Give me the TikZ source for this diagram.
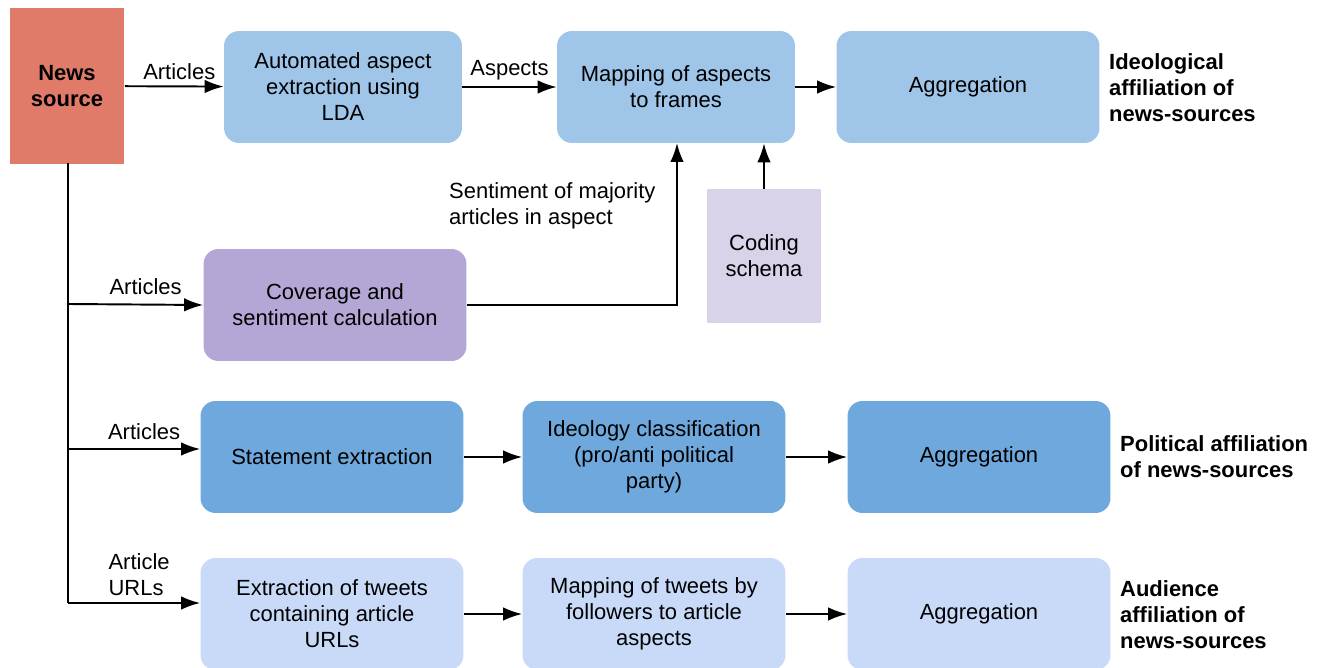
\documentclass[tikz,border=0pt]{standalone}
\usepackage{fontspec}
\setmainfont{Liberation Sans}
\usetikzlibrary{arrows.meta,positioning,calc}

\definecolor{srcred}{HTML}{E07B6A}
\definecolor{lightblue}{HTML}{9FC5E8}
\definecolor{midblue}{HTML}{6FA8DC}
\definecolor{paleblue}{HTML}{C9DAF8}
\definecolor{purple}{HTML}{B4A7D6}
\definecolor{lilac}{HTML}{D9D2E9}

\begin{document}
\begin{tikzpicture}[x=0.02cm, y=-0.02cm, font=\fontsize{12.5}{14.8}\selectfont,
    block/.style={rounded corners=0.3cm, align=center, minimum height=2.24cm, inner sep=2pt},
    wide/.style={block, minimum width=5.26cm},
    narrow/.style={block, minimum width=4.76cm},
    result/.style={font=\fontsize{12.5}{14.8}\selectfont\bfseries, align=left, anchor=west},
    arrow/.style={line width=1.1pt, -{Latex[length=0.38cm, width=0.27cm]}}]

        \useasboundingbox (0,0) rectangle (1322,668);

        % News source
        \node [fill=srcred, minimum width=2.3cm, minimum height=3.12cm, font=\fontsize{12.5}{14.8}\selectfont\bfseries, align=center] (source) at (67,86) {News\\source};

        % Ideological row
        \node [narrow, fill=lightblue] (aspect) at (343,87) {Automated aspect\\extraction using\\LDA};
        \node [narrow, fill=lightblue] (frames) at (676,87) {Mapping of aspects\\to frames};
        \node [wide, fill=lightblue] (aggr_ideo) at (968,87) {Aggregation};
        \node [result] (ideo) at (1103,88) {Ideological\\affiliation of\\news-sources};

        \node [fill=lilac, minimum width=2.28cm, minimum height=2.68cm, align=center] (schema) at (764,256) {Coding\\schema};
        \node [wide, fill=purple] (coverage) at (335,305) {Coverage and\\sentiment calculation};

        % Political row
        \node [wide, fill=midblue] (statement) at (332,457) {Statement extraction};
        \node [wide, fill=midblue] (ideology) at (654,457) {Ideology classification\\(pro/anti political\\party)};
        \node [wide, fill=midblue] (aggr_pol) at (979,457) {Aggregation};
        \node [result] (pol) at (1114,457) {Political affiliation\\of news-sources};

        % Audience row
        \node [wide, fill=paleblue] (tweets) at (332,614) {Extraction of tweets\\containing article\\URLs};
        \node [wide, fill=paleblue] (followers) at (654,614) {Mapping of tweets by\\followers to article\\aspects};
        \node [wide, fill=paleblue] (aggr_aud) at (979,614) {Aggregation};
        \node [result] (aud) at (1114,615) {Audience\\affiliation of\\news-sources};

        % Trunk
        \coordinate (trunk_top) at (68,163);
        \coordinate (trunk_cov) at (68,304);
        \coordinate (trunk_stmt) at (68,449);
        \coordinate (trunk_url) at (68,603);

        % Arrows
        \draw [arrow] (source) -- node[above, xshift=0.1cm] {Articles} (aspect);
        \draw [arrow] (aspect) -- node[above] {Aspects} (frames);
        \draw [arrow] (frames) -- (aggr_ideo);
        \draw [arrow] (schema) -- (schema |- frames.south);
        \draw [arrow] (coverage.east) -| (677,143);
        \node [align=left, anchor=north west] (sentiment) at (443,176) {Sentiment of majority\\articles in aspect};

        \draw [line width=1.1pt] (trunk_top) -- (trunk_url);
        \draw [arrow] (trunk_cov) -- node[above, xshift=0.2cm, yshift=0.05cm] {Articles} (coverage.west);
        \draw [arrow] (trunk_stmt) -- node[above, xshift=0.2cm, yshift=0.05cm] {Articles} (trunk_stmt -| statement.west);
        \draw [arrow] (trunk_url) -- node[above, align=left, xshift=0.1cm] {Article\\URLs} (trunk_url -| tweets.west);

        \draw [arrow] (statement) -- (ideology);
        \draw [arrow] (ideology) -- (aggr_pol);
        \draw [arrow] (tweets) -- (followers);
        \draw [arrow] (followers) -- (aggr_aud);

    \end{tikzpicture}
\end{document}
